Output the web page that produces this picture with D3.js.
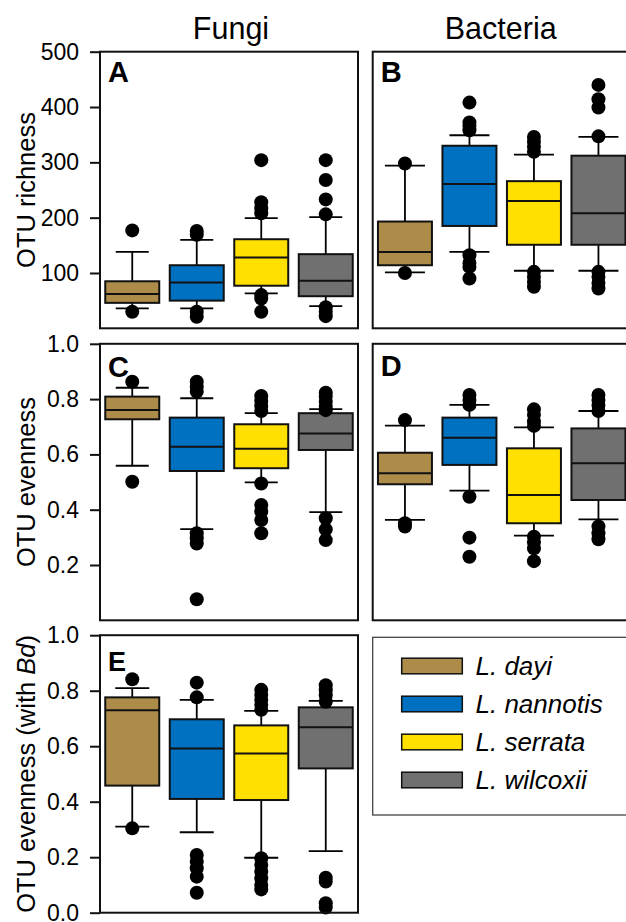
<!DOCTYPE html>
<html>
<head>
<meta charset="utf-8">
<script src="https://cdn.jsdelivr.net/npm/d3@7"></script>
<style>
  body { margin: 0; background: #fff; }
  svg { display: block; }
  text { font-family: "Liberation Sans", Arial, Helvetica, sans-serif; fill: #000; }
</style>
</head>
<body>
<script>
// Species (groups) and their fill colours
const species = ["L. dayi", "L. nannotis", "L. serrata", "L. wilcoxii"];
const speciesColors = ["#AD8C4A", "#0070C0", "#FFE000", "#707070"];

// Tick values
const richnessTicks = [100, 200, 300, 400, 500];
const evennessTicks = [0.2, 0.4, 0.6, 0.8, 1.0];
const evennessBdTicks = [0.0, 0.2, 0.4, 0.6, 0.8, 1.0];

// Box statistics per species: [lower whisker, Q1, median, Q3, upper whisker]
const fungiRichness = [
  [36, 46, 62, 85, 138],
  [36, 50, 83, 114, 160],
  [63, 77, 128, 161, 199],
  [40, 58, 86, 134, 201]
];
const fungiRichnessOutliers = [
  [177, 30],
  [176, 169, 30, 21],
  [304, 228, 217, 208, 60, 54, 30],
  [304, 268, 233, 206, 38, 30, 22]
];

const bacteriaRichness = [
  [101, 114, 138, 193, 294],
  [138, 185, 261, 330, 349],
  [104, 151, 230, 266, 314],
  [104, 151, 208, 312, 346]
];
const bacteriaRichnessOutliers = [
  [298, 100],
  [408, 372, 366, 358, 132, 118, 111, 90],
  [346, 337, 328, 319, 102, 93, 84, 75],
  [440, 414, 399, 347, 102, 93, 82, 72]
];

const fungiEvenness = [
  [0.559, 0.727, 0.761, 0.809, 0.841],
  [0.330, 0.540, 0.628, 0.733, 0.803],
  [0.499, 0.550, 0.620, 0.709, 0.749],
  [0.391, 0.616, 0.676, 0.749, 0.764]
];
const fungiEvennessOutliers = [
  [0.863, 0.501],
  [0.863, 0.845, 0.827, 0.315, 0.297, 0.278, 0.076],
  [0.811, 0.793, 0.775, 0.757, 0.495, 0.417, 0.393, 0.363, 0.315],
  [0.823, 0.809, 0.791, 0.775, 0.760, 0.369, 0.329, 0.290]
];

const bacteriaEvenness = [
  [0.363, 0.492, 0.532, 0.606, 0.704],
  [0.469, 0.562, 0.660, 0.733, 0.779],
  [0.306, 0.351, 0.453, 0.622, 0.698],
  [0.365, 0.435, 0.568, 0.694, 0.757]
];
const bacteriaEvennessOutliers = [
  [0.724, 0.351, 0.339],
  [0.815, 0.797, 0.779, 0.447, 0.299, 0.230],
  [0.763, 0.743, 0.719, 0.703, 0.302, 0.282, 0.260, 0.214],
  [0.815, 0.797, 0.779, 0.757, 0.339, 0.315, 0.293]
];

const fungiEvennessBd = [
  [0.310, 0.458, 0.730, 0.776, 0.809],
  [0.290, 0.410, 0.592, 0.697, 0.767],
  [0.198, 0.406, 0.574, 0.675, 0.727],
  [0.222, 0.520, 0.668, 0.740, 0.763]
];
const fungiEvennessBdOutliers = [
  [0.841, 0.304],
  [0.829, 0.776, 0.208, 0.184, 0.160, 0.130, 0.072],
  [0.803, 0.785, 0.767, 0.749, 0.731, 0.196, 0.172, 0.148, 0.124, 0.100, 0.084],
  [0.820, 0.802, 0.784, 0.760, 0.126, 0.112, 0.034, 0.019]
];

const W = 626, H = 922;
const panelW = 258;
const leftX = 100, rightX = 372.7;

const svg = d3.select("body").append("svg")
  .attr("width", W).attr("height", H);

const panels = [
  { id: "A", x: leftX, top: 51.7, bottom: 328.3, domain: [0, 500], stats: fungiRichness,
    outliers: fungiRichnessOutliers, ticks: richnessTicks, fmt: d3.format("d"), capW: 33, labelBase: 82 },
  { id: "B", x: rightX, top: 51.7, bottom: 328.3, domain: [0, 500], stats: bacteriaRichness,
    outliers: bacteriaRichnessOutliers, ticks: null, capW: 40, labelBase: 82 },
  { id: "C", x: leftX, top: 343.8, bottom: 620.3, domain: [0, 1], stats: fungiEvenness,
    outliers: fungiEvennessOutliers, ticks: evennessTicks, fmt: d3.format(".1f"), capW: 33, labelBase: 377 },
  { id: "D", x: rightX, top: 343.8, bottom: 620.3, domain: [0, 1], stats: bacteriaEvenness,
    outliers: bacteriaEvennessOutliers, ticks: null, capW: 40, labelBase: 376 },
  { id: "E", x: leftX, top: 635.2, bottom: 912.7, domain: [0, 1], stats: fungiEvennessBd,
    outliers: fungiEvennessBdOutliers, ticks: evennessBdTicks, fmt: d3.format(".1f"), capW: 34, labelBase: 671 }
];

panels.forEach(p => {
  const g = svg.append("g");
  const y = d3.scaleLinear().domain(p.domain).range([p.bottom, p.top]);
  const x = d3.scaleBand().domain(species)
    .range([p.x, p.x + panelW]).paddingInner(0.163).paddingOuter(0.0815);
  const bw = x.bandwidth();

  species.forEach((sp, i) => {
    const [lw, q1, med, q3, uw] = p.stats[i];
    const cx = x(sp) + bw / 2;
    const bg = g.append("g");
    // whiskers
    bg.append("line").attr("x1", cx).attr("x2", cx).attr("y1", y(lw)).attr("y2", y(q1))
      .attr("stroke", "#000").attr("stroke-width", 1.8);
    bg.append("line").attr("x1", cx).attr("x2", cx).attr("y1", y(q3)).attr("y2", y(uw))
      .attr("stroke", "#000").attr("stroke-width", 1.8);
    [lw, uw].forEach(v => {
      bg.append("line").attr("x1", cx - p.capW / 2).attr("x2", cx + p.capW / 2)
        .attr("y1", y(v)).attr("y2", y(v))
        .attr("stroke", "#000").attr("stroke-width", 1.8);
    });
    // box
    bg.append("rect").attr("x", x(sp)).attr("y", y(q3))
      .attr("width", bw).attr("height", y(q1) - y(q3))
      .attr("fill", speciesColors[i]).attr("stroke", "#111").attr("stroke-width", 2);
    // median
    bg.append("line").attr("x1", x(sp)).attr("x2", x(sp) + bw)
      .attr("y1", y(med)).attr("y2", y(med))
      .attr("stroke", "#111").attr("stroke-width", 2);
    // outliers
    bg.selectAll("circle").data(p.outliers[i]).join("circle")
      .attr("cx", cx).attr("cy", d => y(d)).attr("r", 7).attr("fill", "#000");
  });

  // panel frame
  g.append("rect").attr("x", p.x).attr("y", p.top)
    .attr("width", panelW).attr("height", p.bottom - p.top)
    .attr("fill", "none").attr("stroke", "#111").attr("stroke-width", 2);

  // left axis ticks
  if (p.ticks) {
    const ax = g.append("g").attr("transform", `translate(${p.x},0)`)
      .call(d3.axisLeft(y).tickValues(p.ticks).tickFormat(p.fmt)
        .tickSize(10).tickPadding(11));
    ax.select(".domain").remove();
    ax.selectAll(".tick line").attr("stroke", "#111").attr("stroke-width", 2);
    ax.selectAll(".tick text")
      .attr("font-family", '"Liberation Sans", Arial, sans-serif')
      .attr("font-size", 23).attr("fill", "#000");
  }

  // panel letter
  g.append("text").attr("x", p.x + 8).attr("y", p.labelBase)
    .attr("font-size", p.id === "E" ? 27 : 29).attr("font-weight", "bold")
    .text(p.id);
});

// column headings
svg.append("text").attr("x", leftX + panelW / 2 + 2).attr("y", 39.3)
  .attr("text-anchor", "middle").attr("font-size", 30.5).text("Fungi");
svg.append("text").attr("x", 500.7).attr("y", 39.3)
  .attr("text-anchor", "middle").attr("font-size", 30.5).text("Bacteria");

// y-axis titles
function yTitle(cy, build) {
  const t = svg.append("text")
    .attr("transform", `translate(35,${cy}) rotate(-90)`)
    .attr("text-anchor", "middle").attr("font-size", 25.5);
  build(t);
}
yTitle((51.7 + 328.3) / 2, t => t.text("OTU richness"));
yTitle((343.8 + 620.3) / 2, t => t.text("OTU evenness"));
yTitle((635.2 + 912.7) / 2, t => {
  t.append("tspan").text("OTU evenness (with ");
  t.append("tspan").attr("font-style", "italic").text("Bd");
  t.append("tspan").text(")");
});

// legend
const legend = svg.append("g");
legend.append("rect").attr("x", 372.7).attr("y", 637.3)
  .attr("width", 262).attr("height", 177.7)
  .attr("fill", "none").attr("stroke", "#444").attr("stroke-width", 1.3);
const legendRow = d3.scalePoint().domain(species).range([666, 780]);
species.forEach((sp, i) => {
  const cy = legendRow(sp);
  legend.append("rect").attr("x", 401.7).attr("y", cy - 7.8)
    .attr("width", 60.6).attr("height", 15.6)
    .attr("fill", speciesColors[i]).attr("stroke", "#111").attr("stroke-width", 1.5);
  legend.append("text").attr("x", 475.5).attr("y", cy + 9)
    .attr("font-size", 26).attr("font-style", "italic").text(sp);
});
</script>
</body>
</html>
